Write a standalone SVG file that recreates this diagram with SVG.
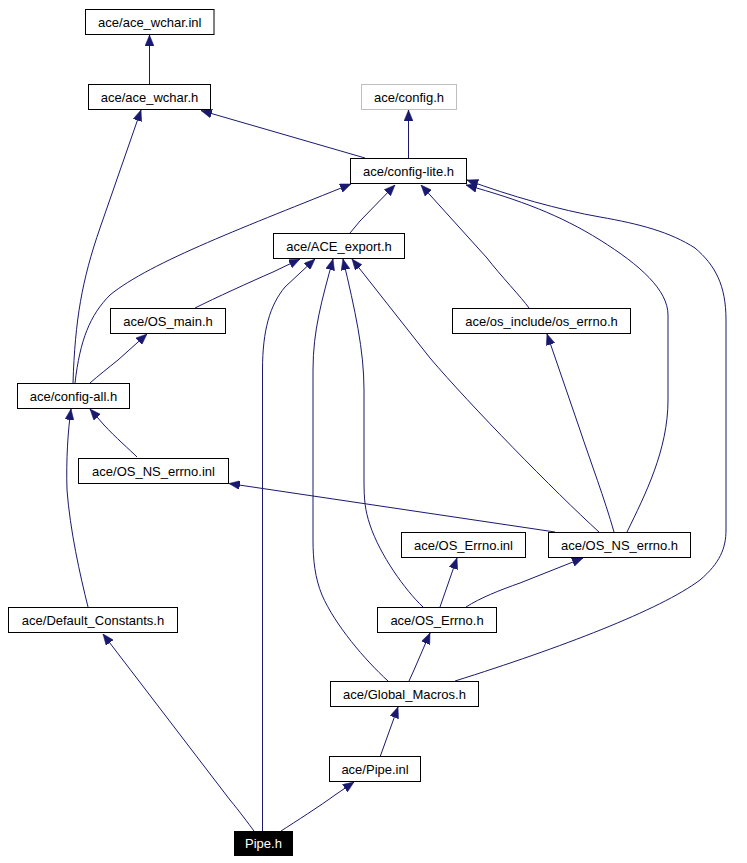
<svg xmlns="http://www.w3.org/2000/svg" width="747" height="863" viewBox="0 0 747 863">
<style>
.n rect{fill:#fff;stroke:#000;stroke-width:1}
.n text{font-family:"Liberation Sans",Arial,sans-serif;font-size:13px;text-anchor:middle;fill:#000}
#n_config rect{stroke:#bfbfbf}
#n_pipeh rect{fill:#000;stroke:#000}
#n_pipeh text{fill:#fff}
.e path{fill:none;stroke:#191970;stroke-width:1;marker-end:url(#ah)}
</style>
<defs>
<marker id="ah" markerUnits="userSpaceOnUse" viewBox="0 0 11 9" refX="11" refY="4.5" markerWidth="11" markerHeight="9" orient="auto">
<path d="M0,0 L11,4.5 L0,9 z" fill="#191970" stroke="#191970" stroke-width="0.5"/>
</marker>
</defs>
<rect width="747" height="863" fill="#fff"/>
<g class="e" id="edges">
<path d="M149.5,84 L149.5,35"/>
<path d="M365,158 L201,110.5"/>
<path d="M408.5,158 L408.5,110"/>
<path d="M73,383 C75,320 82,280 100,228 L141,110"/>
<path d="M75,383 C80,340 90,315 110,295 C150,262 250,225 351,184"/>
<path d="M350,233 L360,221 L395,185"/>
<path d="M529,308 C522,298 500,275 487,258 L421,185"/>
<path d="M627,532 C645,495 668,450 668,400 L668,315 C668,290 640,265 600,240 C560,215 520,200 466,185"/>
<path d="M455,681 C560,648 660,610 700,580 C720,563 726,548 726,530 L726,320 C726,285 715,265 695,248 C670,232 640,224 600,217 C560,210 510,196 467,180"/>
<path d="M195,308 C215,298 250,282 273,272 L300,259"/>
<path d="M90,383 C98,376 108,368 118,360 L147,334"/>
<path d="M262.5,831 L262.5,370 C262.5,330 270,305 285,287 L315,259"/>
<path d="M388,681 C365,660 335,625 322,595 C315,578 313,560 313,540 L313,370 C313,330 322,300 333,259"/>
<path d="M423,607 C405,590 380,555 370,525 C365,510 364,500 364,480 L364,390 C364,350 355,310 343,259"/>
<path d="M599,532 C555,492 470,405 430,358 L352,259"/>
<path d="M614,532 C605,500 590,460 580,430 L547,334"/>
<path d="M137,457 C130,450 115,437 104,425 L90,409"/>
<path d="M555,532 L229,483.5"/>
<path d="M88,607 C80,575 70,530 67,490 C66,460 68,430 71,409"/>
<path d="M409,681 L414,670 L430,633"/>
<path d="M440,607 L457,558"/>
<path d="M466,607 C480,598 500,590 520,583 L583,558"/>
<path d="M380,757 L398,707"/>
<path d="M281,831 C295,822 320,806 335,795 L354,782"/>
<path d="M254,831 C248,823 240,812 230,800 L103,634"/>
</g>
<g class="n" id="n_wcharinl"><rect x="85.5" y="9.5" width="128.5" height="25"/><text x="149.75" y="26.5">ace/ace_wchar.inl</text></g>
<g class="n" id="n_wcharh"><rect x="88.5" y="84.5" width="122" height="25"/><text x="149.5" y="101.5">ace/ace_wchar.h</text></g>
<g class="n" id="n_config"><rect x="361.5" y="84.5" width="95" height="25"/><text x="409" y="101.5">ace/config.h</text></g>
<g class="n" id="n_configlite"><rect x="350.5" y="158.5" width="116" height="25"/><text x="408.5" y="175.5">ace/config-lite.h</text></g>
<g class="n" id="n_aceexport"><rect x="273.5" y="233.5" width="131" height="25"/><text x="339" y="250.5">ace/ACE_export.h</text></g>
<g class="n" id="n_osmain"><rect x="110.5" y="308.5" width="115" height="25"/><text x="168" y="325.5">ace/OS_main.h</text></g>
<g class="n" id="n_oserrnoinc"><rect x="452.5" y="308.5" width="178" height="25"/><text x="541.5" y="325.5">ace/os_include/os_errno.h</text></g>
<g class="n" id="n_configall"><rect x="17.5" y="383.5" width="112" height="25"/><text x="73.5" y="400.5">ace/config-all.h</text></g>
<g class="n" id="n_osnserrnoinl"><rect x="78.5" y="458.5" width="150" height="25"/><text x="153.5" y="475.5">ace/OS_NS_errno.inl</text></g>
<g class="n" id="n_oserrnoinl"><rect x="401.5" y="532.5" width="124" height="25"/><text x="463.5" y="549.5">ace/OS_Errno.inl</text></g>
<g class="n" id="n_osnserrnoh"><rect x="548.5" y="532.5" width="142" height="25"/><text x="619.5" y="549.5">ace/OS_NS_errno.h</text></g>
<g class="n" id="n_defconst"><rect x="8.5" y="607.5" width="169" height="25"/><text x="93" y="624.5">ace/Default_Constants.h</text></g>
<g class="n" id="n_oserrnoh"><rect x="377.5" y="607.5" width="119" height="25"/><text x="437" y="624.5">ace/OS_Errno.h</text></g>
<g class="n" id="n_globalmacros"><rect x="330.5" y="681.5" width="148" height="25"/><text x="404.5" y="698.5">ace/Global_Macros.h</text></g>
<g class="n" id="n_pipeinl"><rect x="329.5" y="756.5" width="91" height="25"/><text x="375" y="773.5">ace/Pipe.inl</text></g>
<g class="n" id="n_pipeh"><rect x="234.5" y="831.5" width="58" height="24"/><text x="263.5" y="848">Pipe.h</text></g>
</svg>
